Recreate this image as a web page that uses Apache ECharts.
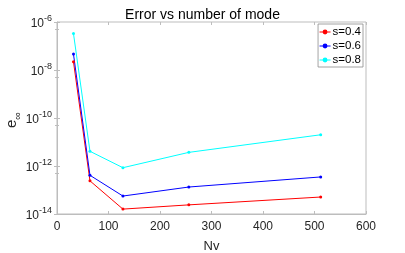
<!DOCTYPE html>
<html><head><meta charset="utf-8">
<script src="https://cdn.jsdelivr.net/npm/echarts@6/dist/echarts.min.js"></script>
<style>html,body{margin:0;padding:0;background:#fff}#c{width:405px;height:253px}</style>
</head><body><div id="c"></div>
<script>
const nv = [32, 64, 128, 256, 512];
const s04 = [2.2e-8, 2.4e-13, 1.6e-14, 2.4e-14, 5.1e-14];
const s06 = [4.6e-8, 4.1e-13, 5.6e-14, 1.33e-13, 3.5e-13];
const s08 = [3.3e-7, 4.1e-12, 8.5e-13, 3.7e-12, 2.0e-11];
const seriesNames = ['s=0.4', 's=0.6', 's=0.8'];
const colors = ['#ff0000', '#0000ff', '#00ffff'];
const xTicks = [0, 100, 200, 300, 400, 500, 600];
const yExps = [-14, -12, -10, -8, -6];

const font = 'Liberation Sans, Arial, sans-serif';
const axisColor = '#262626';
const gridColor = '#bdbdbd';
function pairs(ys){ return nv.map((x,i)=>[x, ys[i]]); }
const chart = echarts.init(document.getElementById('c'), null, {renderer:'canvas'});
const mk = (name, ys, color) => ({
  name, type:'line', data: pairs(ys), xAxisIndex:0, yAxisIndex:0,
  symbol:'circle', symbolSize:3, lineStyle:{color, width:1}, itemStyle:{color},
  animation:false
});
chart.setOption({
  animation:false,
  title:{text:'Error vs number of mode', left:'center', top:3,
    textStyle:{fontFamily:font, fontSize:14, fontWeight:'normal', color:'#000'}},
  legend:{right:42, top:24, orient:'vertical', itemWidth:11, itemHeight:6, itemGap:2,
    padding:[2,2,1,1], borderColor:'#8c8c8c', borderWidth:0.8, backgroundColor:'#fff',
    lineStyle:{width:1},
    textStyle:{fontFamily:font, fontSize:11.5, color:'#000', padding:[0,0,0,-3]},
    data: seriesNames},
  graphic:[{type:'text', x:12, y:120, rotation:Math.PI/2,
    style:{text:'{e|e}{i|∞}', align:'center', verticalAlign:'middle',
      rich:{e:{fontFamily:font, fontSize:15, fill:axisColor, verticalAlign:'bottom'},
            i:{fontFamily:font, fontSize:11, fill:axisColor, verticalAlign:'bottom', padding:[0,0,-4,0]}}}}],
  grid:{left:57, right:39, top:22, bottom:39, show:true, borderColor:gridColor, borderWidth:1,
    containLabel:false, outerBoundsMode:'none'},
  xAxis:[{type:'value', min:0, max:600, interval:100,
    axisLine:{show:true, lineStyle:{color:gridColor}},
    axisTick:{inside:true, length:3, lineStyle:{color:gridColor}},
    axisLabel:{fontFamily:font, fontSize:12, color:axisColor, margin:7,
      formatter: v => xTicks.includes(v) ? String(v) : ''},
    splitLine:{show:false},
    name:'Nv', nameLocation:'middle', nameGap:26,
    nameTextStyle:{fontFamily:font, fontSize:13, color:axisColor}},
   {type:'value', min:0, max:600, interval:100, position:'top',
    axisLine:{show:false}, axisTick:{inside:true, length:3, lineStyle:{color:gridColor}},
    axisLabel:{show:false}, splitLine:{show:false}}],
  yAxis:[{type:'log', logBase:10, min:1e-14, max:1e-6, interval:2,
    axisLine:{show:true, lineStyle:{color:gridColor}},
    axisTick:{inside:true, length:3, lineStyle:{color:gridColor}},
    minorTick:{show:true, splitNumber:2, length:2, lineStyle:{color:gridColor}},
    splitLine:{show:false},
    axisLabel:{fontFamily:font, margin:5,
      formatter: v => { const e = Math.round(Math.log10(v)); return yExps.includes(e) ? '{b|10}{s|' + e + '}' : ''; },
      rich:{b:{fontFamily:font, fontSize:12, color:axisColor, verticalAlign:'bottom'},
            s:{fontFamily:font, fontSize:9, color:axisColor, verticalAlign:'bottom', padding:[0,0,7,0]}}}},
   {type:'log', logBase:10, min:1e-14, max:1e-6, interval:2, position:'right',
    axisLine:{show:false}, axisTick:{inside:true, length:3, lineStyle:{color:gridColor}},
    minorTick:{show:true, splitNumber:2, length:2, lineStyle:{color:gridColor}},
    axisLabel:{show:false}, splitLine:{show:false}}],
  series:[mk(seriesNames[0], s04, colors[0]), mk(seriesNames[1], s06, colors[1]), mk(seriesNames[2], s08, colors[2])]
});
</script></body></html>
